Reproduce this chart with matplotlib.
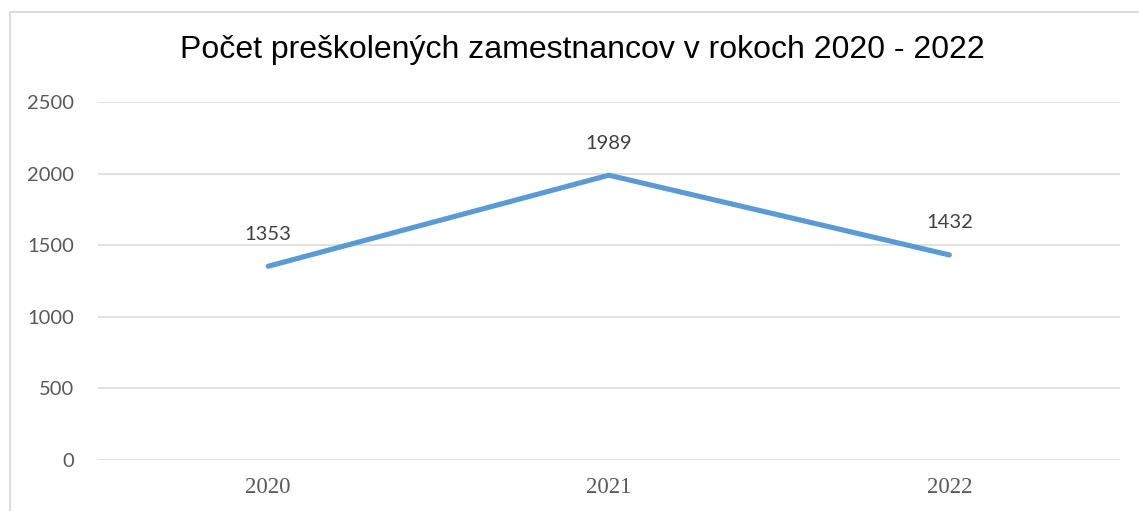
"""Počet preškolených zamestnancov 2020-2022."""
import matplotlib
matplotlib.use("Agg")
import matplotlib.pyplot as plt
from matplotlib.lines import Line2D

years = ["2020", "2021", "2022"]
counts = [1353, 1989, 1432]
yticks = [0, 500, 1000, 1500, 2000, 2500]

fig = plt.figure(figsize=(11.39, 5.11), dpi=100)
ax = fig.add_axes([0.086, 0.0998, 0.897, 0.7006])

ax.plot(range(len(years)), counts, color="#5B9BD5", lw=3.7, solid_capstyle="round", zorder=3)
for i, v in enumerate(counts):
    ax.annotate(str(v), (i, v), textcoords="offset points", xytext=(0, 23),
                ha="center", va="center", fontsize=14.5, family="Lato", color="#404040")

ax.set_xlim(-0.5, len(years) - 0.5)
ax.set_ylim(0, 2500)
ax.set_yticks(yticks)
ax.set_yticklabels([str(t) for t in yticks], family="Lato", fontsize=14.5, color="#595959")
ax.set_xticks(range(len(years)))
ax.set_xticklabels(years, family="Liberation Serif", fontsize=16.5, color="#595959")
ax.tick_params(axis="y", length=0, pad=17)
ax.tick_params(axis="x", length=0, pad=12)
ax.grid(axis="y", color="#D9D9D9", lw=1.1)
ax.set_axisbelow(True)
for s in ax.spines.values():
    s.set_visible(False)

fig.text(0.511, 0.902, "Počet preškolených zamestnancov v rokoch 2020 - 2022",
         ha="center", va="center", fontsize=23, family="Liberation Sans", color="black")

# chart border (cut at right and bottom)
bx, by = 10 / 1139, 1 - 12 / 511
fig.add_artist(Line2D([bx, bx], [0, by], color="#D9D9D9", lw=1.3, transform=fig.transFigure))
fig.add_artist(Line2D([bx, 1], [by, by], color="#D9D9D9", lw=1.3, transform=fig.transFigure))

fig.savefig("out.png", dpi=100)
